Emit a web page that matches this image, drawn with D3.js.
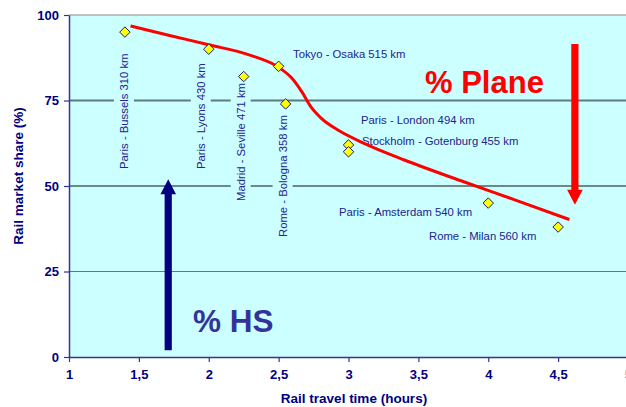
<!DOCTYPE html>
<html>
<head>
<meta charset="utf-8">
<script src="https://cdn.jsdelivr.net/npm/d3@7"></script>
<style>
  html, body { margin: 0; padding: 0; background: #ffffff; }
  svg { display: block; font-family: "Liberation Sans", Arial, sans-serif; }
</style>
</head>
<body>
<svg id="chart" width="626" height="407"></svg>
<script>
// Rail market share vs. rail travel time for high-speed routes
const routes = [
  "Paris - Bussels 310 km",
  "Paris - Lyons 430 km",
  "Madrid - Seville 471 km",
  "Tokyo - Osaka 515 km",
  "Rome - Bologna 358 km",
  "Paris - London 494 km",
  "Stockholm - Gotenburg 455 km",
  "Paris - Amsterdam 540 km",
  "Rome - Milan 560 km"
];
const travelHours = [1.4, 2.0, 2.25, 2.5, 2.55, 3.0, 3.0, 4.0, 4.5];
const railShare   = [95, 90, 82, 85, 74, 62, 60, 45, 38];

// Fitted trend of rail share against travel time
const trendHours = [1.44, 1.72, 2.0, 2.3, 2.5, 2.6, 2.67, 2.73, 2.8, 2.94, 3.1, 3.4, 3.8, 4.2, 4.58];
const trendShare = [96.8, 94.0, 91.3, 88.2, 84.7, 81.3, 77.3, 73.2, 70.0, 66.0, 62.7, 57.6, 51.6, 45.8, 40.2];

const xTicks = [1, 1.5, 2, 2.5, 3, 3.5, 4, 4.5, 5];
const yTicks = [0, 25, 50, 75, 100];

// Arrows: rail share grows (up), plane share grows (down)
const hsArrow    = { x: 1.71, from: 2, to: 52 };
const planeArrow = { x: 4.62, from: 91.5, to: 44.5 };

const svg = d3.select("#chart");
const m = { left: 69, top: 15, bottom: 357 };
const x = d3.scaleLinear().domain([1, 5]).range([m.left, 628]);
const y = d3.scaleLinear().domain([0, 100]).range([m.bottom, m.top]);

const navy = "#000080";
const labelColor = "#23238c";
const bg = "#ccffff";

// plot area
svg.append("rect")
  .attr("x", x(1)).attr("y", y(100))
  .attr("width", x(5) - x(1)).attr("height", y(0) - y(100))
  .attr("fill", bg);

// gridlines
const gridStyle = { 25: ["#5f7a7a", 1.2], 50: ["#101010", 1.2], 75: ["#5f7a7a", 2.2] };
[25, 50, 75].forEach(v => {
  svg.append("line")
    .attr("x1", x(1)).attr("x2", x(5))
    .attr("y1", y(v)).attr("y2", y(v))
    .attr("stroke", gridStyle[v][0]).attr("stroke-width", gridStyle[v][1]);
});
svg.append("line")
  .attr("x1", x(1)).attr("x2", x(5))
  .attr("y1", y(100)).attr("y2", y(100))
  .attr("stroke", "#8a8a8a").attr("stroke-width", 1.2);

// rotated route labels, each on a background panel that breaks the gridlines
const rotLabel = [
  { i: 0, dx: -1, base: 169 },
  { i: 1, dx: -8, base: 169 },
  { i: 2, dx: -3, base: 201 },
  { i: 4, dx: -3, base: 237 }
];
const rotG = svg.append("g");
rotLabel.forEach(d => {
  const cx = x(travelHours[d.i]) + d.dx;
  const t = rotG.append("text")
    .attr("transform", `translate(${cx + 4},${d.base}) rotate(-90)`)
    .attr("font-size", 11.3)
    .attr("fill", labelColor)
    .text(routes[d.i]);
  const bb = t.node().getBBox();
  rotG.insert("rect", "text")
    .attr("x", cx - 10).attr("y", d.base - bb.width - 2)
    .attr("width", 20).attr("height", bb.width + 4)
    .attr("fill", bg);
});

const flatLabel = [
  { i: 3, lx: 293, ly: 58 },
  { i: 5, lx: 361, ly: 124 },
  { i: 6, lx: 362, ly: 145 },
  { i: 7, lx: 339, ly: 216 },
  { i: 8, lx: 429, ly: 240 }
];
svg.append("g").selectAll("text").data(flatLabel).join("text")
  .attr("x", d => d.lx).attr("y", d => d.ly)
  .attr("font-size", 11.3)
  .attr("fill", labelColor)
  .text(d => routes[d.i]);

// trend curve
const line = d3.line()
  .x(d => x(d[0])).y(d => y(d[1]))
  .curve(d3.curveMonotoneX);
svg.append("path")
  .datum(trendHours.map((h, i) => [h, trendShare[i]]))
  .attr("d", line)
  .attr("fill", "none")
  .attr("stroke", "#ff0000")
  .attr("stroke-width", 3);

// route markers
const diamond = d3.symbol().type(d3.symbolDiamond2).size(70);
svg.append("g").selectAll("path").data(travelHours).join("path")
  .attr("transform", (h, i) => `translate(${x(h)},${y(railShare[i])})`)
  .attr("d", diamond)
  .attr("fill", "#ffff00")
  .attr("stroke", "#1a1a80")
  .attr("stroke-width", 1);

// arrows
function arrow(a, color) {
  const px = x(a.x), y0 = y(a.from), y1 = y(a.to);
  const dir = y1 < y0 ? -1 : 1;
  const head = 15, hw = 7.8, sw = 3.6;
  const yb = y1 - dir * head;
  const pts = [
    [px - sw, y0], [px - sw, yb], [px - hw, yb], [px, y1],
    [px + hw, yb], [px + sw, yb], [px + sw, y0]
  ];
  svg.append("path")
    .attr("d", "M" + pts.map(p => p.join(",")).join("L") + "Z")
    .attr("fill", color);
}
arrow(hsArrow, navy);
arrow(planeArrow, "#ff0000");

svg.append("text")
  .attr("x", 425).attr("y", 93)
  .attr("font-size", 31).attr("font-weight", "bold")
  .attr("fill", "#ff0000")
  .text("% Plane");
svg.append("text")
  .attr("x", 193).attr("y", 332)
  .attr("font-size", 31.5).attr("font-weight", "bold")
  .attr("fill", "#333399")
  .text("% HS");

// axes
const fmt = d => String(d).replace(".", ",");
const xAxis = svg.append("g")
  .attr("transform", `translate(0,${m.bottom})`)
  .call(d3.axisBottom(x).tickValues(xTicks).tickFormat(fmt).tickSize(5).tickSizeOuter(0));
const yAxis = svg.append("g")
  .attr("transform", `translate(${m.left},0)`)
  .call(d3.axisLeft(y).tickValues(yTicks).tickSize(5).tickSizeOuter(0));
[xAxis, yAxis].forEach(g => {
  g.select(".domain").attr("stroke", "#333399").attr("stroke-width", 1.5);
  g.selectAll(".tick line").attr("stroke", "#333399").attr("stroke-width", 1.2);
  g.selectAll(".tick text")
    .attr("fill", navy)
    .attr("font-family", "'Liberation Sans', Arial, sans-serif")
    .attr("font-size", 13).attr("font-weight", "bold");
});
xAxis.selectAll(".tick text").attr("dy", "1.05em").attr("y", 8);
yAxis.selectAll(".tick text").attr("x", -10);

svg.append("text")
  .attr("x", 354).attr("y", 403)
  .attr("text-anchor", "middle")
  .attr("font-size", 13.5).attr("font-weight", "bold")
  .attr("fill", navy)
  .text("Rail travel time (hours)");
svg.append("text")
  .attr("transform", "translate(23,176) rotate(-90)")
  .attr("text-anchor", "middle")
  .attr("font-size", 13.5).attr("font-weight", "bold")
  .attr("fill", navy)
  .text("Rail market share (%)");
</script>
</body>
</html>
